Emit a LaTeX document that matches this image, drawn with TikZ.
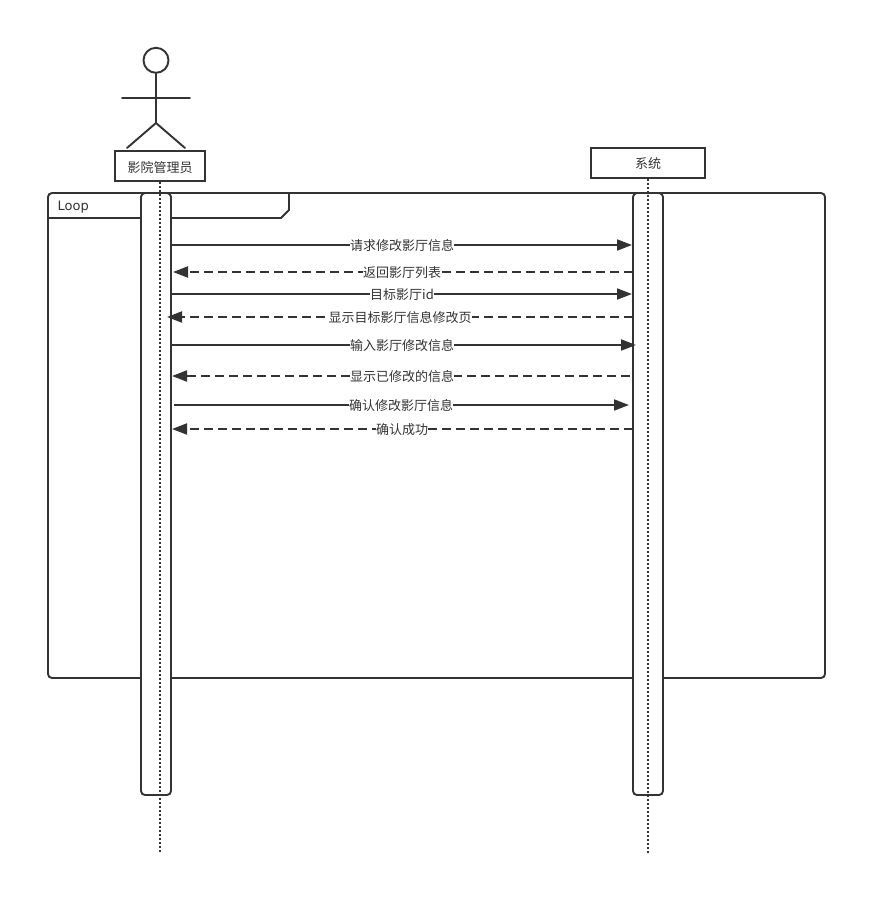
\documentclass[tikz,border=0pt]{standalone}
\usepackage{fontspec}
\setmainfont{Noto Sans CJK SC}
\newfontfamily\latinfont{DejaVu Sans}
\usetikzlibrary{arrows.meta}
\definecolor{ink}{HTML}{333333}
\tikzset{
  x=1bp,y=-1bp,
  figure/.style={draw=ink,line width=1.9bp,line cap=round},
  party/.style={draw=ink,fill=white,line width=2bp,minimum height=30bp,inner sep=0pt,font=\fontsize{13bp}{15bp}\selectfont,text=ink,text depth=0pt},
  frameline/.style={draw=ink,line width=1.9bp,rounded corners=4bp},
  activation/.style={draw=ink,fill=white,line width=1.9bp,rounded corners=4bp},
  lifeline/.style={draw=ink,line width=2.4bp,dash pattern=on 2bp off 2bp},
  msg/.style={draw=ink,line width=1.9bp,-{Triangle[length=15bp,width=11bp]}},
  reply/.style={msg,dash pattern=on 9bp off 5bp},
  msglabel/.style={fill=white,text=ink,inner xsep=0pt,inner ysep=0.5bp,font=\fontsize{13bp}{15bp}\selectfont},
  looplabel/.style={text=ink,inner sep=0pt,anchor=west,font=\latinfont\fontsize{13bp}{15bp}\selectfont},
}
\begin{document}
\begin{tikzpicture}
\useasboundingbox (0,0) rectangle (887,917);
% loop frame
\path[frameline] (48,193) rectangle (825,678);
\draw[draw=ink,line width=1.9bp,line join=miter] (48,218) -- (281,218) -- (289,210) -- (289,193);
\node[looplabel] (loop) at (57.5,207) {Loop};
% actor
\node[circle,draw=ink,line width=1.9bp,minimum size=25bp,inner sep=0pt] (head) at (156,60.3) {};
\coordinate (hip) at (156,123);
\coordinate (armL) at (122,98);
\coordinate (armR) at (190,98);
\coordinate (legL) at (127,148);
\coordinate (legR) at (185,148);
\draw[figure] (head.south) -- (hip);
\draw[figure] (armL) -- (armR);
\draw[figure] (legL) -- (hip) -- (legR);
% parties
\node[party,minimum width=90bp] (admin) at (160,166) {\raisebox{-1bp}{影院管理员}};
\node[party,minimum width=114bp] (sys) at (648,163) {\raisebox{-1bp}{系统}};
% activations
\path[activation] (141,193) rectangle (171,795);
\path[activation] (633,193) rectangle (663,795);
\coordinate (adminEnd) at (160,852);
\coordinate (sysEnd) at (648,855);
\draw[lifeline] (admin.south) -- (adminEnd);
\draw[lifeline] (sys.south) -- (sysEnd);
% messages
\coordinate (a1) at (171,245); \coordinate (b1) at (632,245);
\coordinate (b2) at (633,272); \coordinate (a2) at (173,272);
\coordinate (a3) at (171,294); \coordinate (b3) at (632,294);
\coordinate (b4) at (633,317); \coordinate (a4) at (167,317);
\coordinate (a5) at (171,345); \coordinate (b5) at (636,345);
\coordinate (b6) at (630,376); \coordinate (a6) at (172,376);
\coordinate (a7) at (174,405); \coordinate (b7) at (629,405);
\coordinate (b8) at (633,429); \coordinate (a8) at (172,429);
\draw[msg] (a1) -- (b1);
\draw[reply] (b2) -- (a2);
\draw[msg] (a3) -- (b3);
\draw[reply] (b4) -- (a4);
\draw[msg] (a5) -- (b5);
\draw[reply] (b6) -- (a6);
\draw[msg] (a7) -- (b7);
\draw[reply] (b8) -- (a8);
\node[msglabel] (m1) at (402,246) {请求修改影厅信息};
\node[msglabel] (m2) at (402,273) {返回影厅列表};
\node[msglabel] (m3) at (402,295) {目标影厅id};
\node[msglabel] (m4) at (400,318) {显示目标影厅信息修改页};
\node[msglabel] (m5) at (402,346) {输入影厅修改信息};
\node[msglabel] (m6) at (402,377) {显示已修改的信息};
\node[msglabel] (m7) at (401,406) {确认修改影厅信息};
\node[msglabel] (m8) at (402,430) {确认成功};
\end{tikzpicture}
\end{document}
